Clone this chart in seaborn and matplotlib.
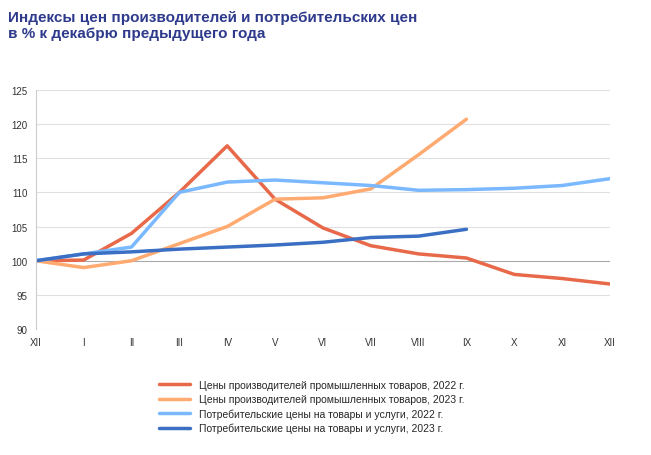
import matplotlib
matplotlib.use("Agg")
import matplotlib.pyplot as plt
import seaborn as sns
import pandas as pd

months = ['XII', 'I', 'II', 'III', 'IV', 'V', 'VI', 'VII', 'VIII', 'IX', 'X', 'XI', 'XII']
prod_2022 = [100, 100.1, 104, 110, 116.8, 109, 104.8, 102.2, 101, 100.4, 98, 97.4, 96.6]
prod_2023 = [100, 99, 100, 102.5, 105, 109, 109.2, 110.5, 115.5, 120.7]
cons_2022 = [100, 101, 102, 110, 111.5, 111.8, 111.4, 111, 110.3, 110.4, 110.6, 111, 112]
cons_2023 = [100, 101, 101.3, 101.7, 102, 102.3, 102.7, 103.4, 103.6, 104.6]

names = ['Цены производителей промышленных товаров, 2022 г.',
         'Цены производителей промышленных товаров, 2023 г.',
         'Потребительские цены на товары и услуги, 2022 г.',
         'Потребительские цены на товары и услуги, 2023 г.']
colors = ['#e8694a', '#ffaa70', '#7ab8ff', '#3a6fc4']

rows = []
for name, vals in zip(names, [prod_2022, prod_2023, cons_2022, cons_2023]):
    for i, v in enumerate(vals):
        rows.append({'x': i, 'y': v, 'series': name})
df = pd.DataFrame(rows)

sns.set_style("white")
plt.rcParams['font.family'] = ['Liberation Sans', 'DejaVu Sans']
fig = plt.figure(figsize=(6.51, 4.56), dpi=100)
ax = fig.add_axes([0.055, 0.276, 0.882, 0.525])

sns.lineplot(data=df, x='x', y='y', hue='series', palette=colors,
             linewidth=2.5, ax=ax, legend=False)

ax.set_xlim(0, 12)
ax.set_ylim(90, 125)
ax.set_yticks(range(90, 126, 5))
ax.set_xticks(range(13))
ax.set_xticklabels(months)
ax.tick_params(labelsize=7, colors='#333333', length=0, pad=6)
ax.set_xlabel('')
ax.set_ylabel('')
for y in range(90, 126, 5):
    ax.axhline(y, color='#aaaaaa' if y == 100 else '#e0e0e0', lw=0.8, zorder=0)
for s in ['top', 'right', 'bottom']:
    ax.spines[s].set_visible(False)
ax.spines['left'].set_color('#cccccc')

fig.text(0.012, 0.975, 'Индексы цен производителей и потребительских цен\nв % к декабрю предыдущего года',
         ha='left', va='top', fontsize=11, fontweight='bold', color='#2e3a8c', linespacing=1.1)

handles = [plt.Line2D([], [], color=c, lw=2.5) for c in colors]
fig.legend(handles, names, loc='upper left', bbox_to_anchor=(0.23, 0.185),
           frameon=False, fontsize=7.5, handlelength=3, labelspacing=0.4)

fig.savefig('out.png', dpi=100)
